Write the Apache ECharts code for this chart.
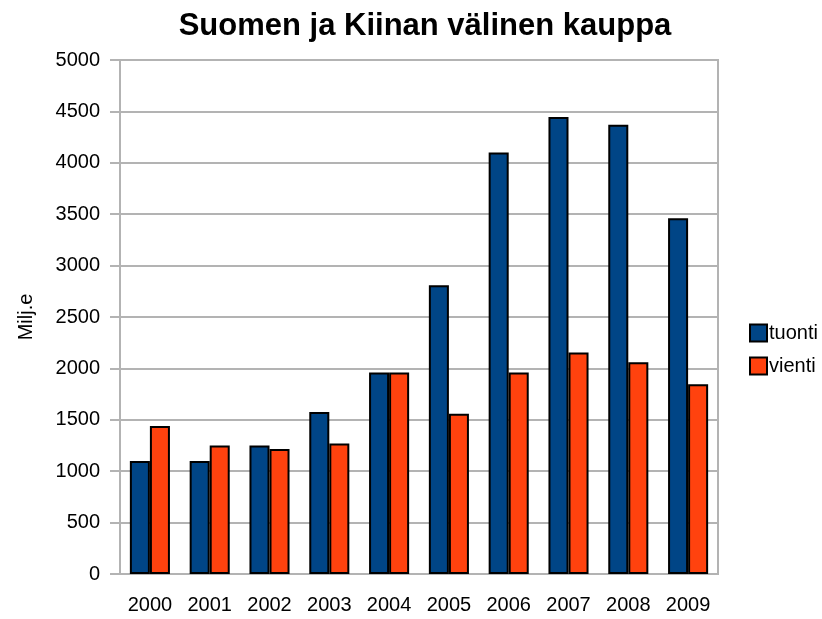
<!DOCTYPE html>
<html>
	<head>
		<meta charset="UTF-8">
		<title>Suomen ja Kiinan välinen kauppa</title>
		<script src="https://cdn.jsdelivr.net/npm/echarts@6/dist/echarts.min.js"></script>
		<style>
			html, body { margin: 0; padding: 0; background: #fff; }
			#chart { width: 822px; height: 619px; }
		</style>
	</head>
	<body>
		<div id="chart"></div>
		<script>
			// vuodet ja arvot (milj. e)
			var years = ['2000','2001','2002','2003','2004','2005','2006','2007','2008','2009'];
			var tuonti = [1100, 1100, 1250, 1575, 1960, 2810, 4100, 4445, 4370, 3460];
			var vienti = [1440, 1250, 1215, 1270, 1960, 1560, 1960, 2155, 2060, 1845];

			var chart = echarts.init(document.getElementById('chart'));
			var font = 'Liberation Sans, Arial, sans-serif';

			var option = {
				backgroundColor: '#fff',
				animation: false,
				title: {
					text: 'Suomen ja Kiinan välinen kauppa',
					left: 420,
					textAlign: 'center',
					top: 6,
					textStyle: { fontFamily: font, fontSize: 31, fontWeight: 'bold', color: '#000' }
				},
				legend: {
					orient: 'vertical',
					left: 744,
					top: 318,
					itemWidth: 17,
					itemHeight: 17,
					itemGap: 13,
					icon: 'rect',
					itemStyle: { borderColor: '#000', borderWidth: 2 },
					textStyle: { fontFamily: font, fontSize: 20, color: '#000', padding: [0, 0, 0, -3] },
					data: ['tuonti', 'vienti']
				},
				grid: {
					left: 120, right: 104, top: 60, bottom: 45,
					show: true, borderColor: '#b3b3b3', borderWidth: 2
				},
				xAxis: {
					type: 'category',
					data: years,
					axisLine: { lineStyle: { color: '#b3b3b3', width: 2 } },
					axisTick: { length: 11, lineStyle: { color: '#b3b3b3', width: 2 } },
					axisLabel: { fontFamily: font, fontSize: 20, color: '#000', margin: 21 }
				},
				yAxis: {
					type: 'value',
					min: 0, max: 5000, interval: 500,
					name: 'Milj.e',
					nameLocation: 'middle',
					nameRotate: 90,
					nameGap: 84,
					nameTextStyle: { fontFamily: font, fontSize: 20, color: '#000' },
					axisLine: { show: true, lineStyle: { color: '#b3b3b3', width: 2 } },
					axisTick: { show: true, length: 10, lineStyle: { color: '#b3b3b3', width: 2 } },
					splitLine: { lineStyle: { color: '#b3b3b3', width: 2 } },
					axisLabel: {
						fontFamily: font, fontSize: 20, color: '#000', margin: 20,
						formatter: function (v) { return String(v); }
					}
				},
				series: [{
					name: 'tuonti',
					type: 'bar',
					data: tuonti,
					barGap: '0%',
					barCategoryGap: '33%',
					itemStyle: { color: '#004586', borderColor: '#000', borderWidth: 2 }
				}, {
					name: 'vienti',
					type: 'bar',
					data: vienti,
					barGap: '0%',
					barCategoryGap: '33%',
					itemStyle: { color: '#ff420e', borderColor: '#000', borderWidth: 2 }
				}]
			};

			chart.setOption(option);
		</script>
	</body>
</html>
